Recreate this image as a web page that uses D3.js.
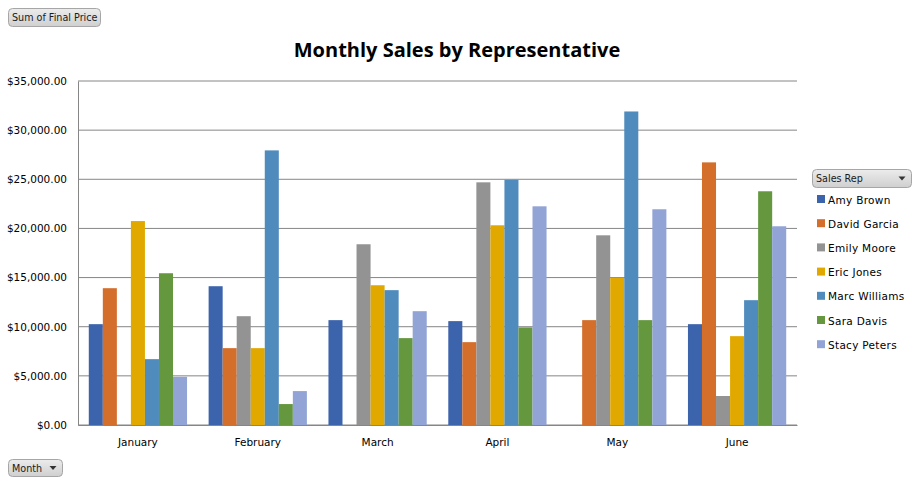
<!DOCTYPE html>
<html>
<head>
<meta charset="utf-8">
<script src="https://cdn.jsdelivr.net/npm/d3@7"></script>
<style>
  body { margin: 0; background: #fff; }
  svg { display: block; }
</style>
</head>
<body>
<div id="chart"></div>
<script>
// chart data
const months = ["January", "February", "March", "April", "May", "June"];
const reps = ["Amy Brown", "David Garcia", "Emily Moore", "Eric Jones", "Marc Williams", "Sara Davis", "Stacy Peters"];
const repColors = ["#3c64ad", "#d46e2b", "#939393", "#e1a900", "#4f8bbd", "#64973e", "#91a4d5"];
// one array per rep, values by month (0 = no sales)
const amyBrown     = [10260, 14120, 10670, 10570,     0, 10260];
const davidGarcia  = [13920,  7820,     0,  8430, 10670, 26720];
const emilyMoore   = [    0, 11070, 18390, 24690, 19300,  2950];
const ericJones    = [20750,  7820, 14220, 20320, 14970,  9040];
const marcWilliams = [ 6700, 27940, 13720, 24950, 31900, 12700];
const saraDavis    = [15440,  2130,  8840,  9930, 10670, 23780];
const stacyPeters  = [ 4900,  3450, 11580, 22250, 21950, 20220];
const yTicks = [0, 5000, 10000, 15000, 20000, 25000, 30000, 35000];

const series = [amyBrown, davidGarcia, emilyMoore, ericJones, marcWilliams, saraDavis, stacyPeters];

const width = 920;
const height = 482;
const margin = { left: 78, right: 123, top: 81, bottom: 57 };
const labelFont = "Verdana, 'DejaVu Sans', sans-serif";

const svg = d3.select("#chart")
    .append("svg")
    .attr("width", width)
    .attr("height", height);

// scales
const x0 = d3.scaleBand()
    .domain(months)
    .range([margin.left, width - margin.right])
    .paddingInner(0.18)
    .paddingOuter(0.09);

const x1 = d3.scaleBand()
    .domain(reps)
    .range([0, x0.bandwidth()]);

const y = d3.scaleLinear()
    .domain([0, 35000])
    .range([height - margin.bottom, margin.top]);

const money = d3.format("$,.2f");

// gridlines
svg.append("g")
    .selectAll("line")
    .data(yTicks)
    .join("line")
    .attr("x1", margin.left)
    .attr("x2", width - margin.right)
    .attr("y1", d => y(d))
    .attr("y2", d => y(d))
    .attr("stroke", "#868686")
    .attr("stroke-width", 1);

// bars
const groups = svg.append("g")
    .selectAll("g")
    .data(months)
    .join("g")
    .attr("transform", d => `translate(${x0(d)},0)`);

groups.selectAll("rect")
    .data((m, i) => reps.map((r, j) => ({ rep: r, value: series[j][i], color: repColors[j] })))
    .join("rect")
    .attr("x", d => x1(d.rep))
    .attr("width", x1.bandwidth())
    .attr("y", d => y(d.value))
    .attr("height", d => y(0) - y(d.value))
    .attr("fill", d => d.color);

// y axis
const yAxis = svg.append("g")
    .attr("transform", `translate(${margin.left},0)`)
    .call(d3.axisLeft(y).tickValues(yTicks).tickFormat(money).tickSize(0).tickPadding(11));
yAxis.select(".domain").attr("stroke", "#868686");
yAxis.selectAll("text")
    .attr("font-family", labelFont)
    .attr("font-size", "10.5px")
    .attr("fill", "#000");

// x axis
const xAxis = svg.append("g")
    .attr("transform", `translate(0,${height - margin.bottom})`)
    .call(d3.axisBottom(x0).tickSize(0).tickPadding(14));
xAxis.select(".domain").attr("stroke", "#868686");
xAxis.selectAll("text")
    .attr("font-family", labelFont)
    .attr("font-size", "10.5px")
    .attr("fill", "#000");

// title
svg.append("text")
    .attr("x", 457)
    .attr("y", 57)
    .attr("text-anchor", "middle")
    .attr("font-family", "'Open Sans', 'Liberation Sans', sans-serif")
    .attr("font-weight", "bold")
    .attr("font-size", "20px")
    .attr("fill", "#000")
    .text("Monthly Sales by Representative");

// pivot field buttons
function fieldButton(bx, by, bw, bh, label, arrow) {
    const g = svg.append("g").attr("transform", `translate(${bx},${by})`);
    const grad = "grad" + Math.round(bx) + "_" + Math.round(by);
    const lg = svg.append("defs").append("linearGradient")
        .attr("id", grad).attr("x1", 0).attr("x2", 0).attr("y1", 0).attr("y2", 1);
    lg.append("stop").attr("offset", "0%").attr("stop-color", "#ececec");
    lg.append("stop").attr("offset", "100%").attr("stop-color", "#cfcfcf");
    g.append("rect")
        .attr("width", bw).attr("height", bh)
        .attr("rx", 4).attr("ry", 4)
        .attr("fill", `url(#${grad})`)
        .attr("stroke", "#a6a6a6");
    g.append("text")
        .attr("x", 3.5).attr("y", bh / 2 + 3.5)
        .attr("font-family", labelFont)
        .attr("font-size", "9.6px")
        .attr("fill", "#1a1a1a")
        .text(label);
    if (arrow) {
        g.append("path")
            .attr("d", `M${bw - 13},${bh / 2 - 2} l7,0 l-3.5,4 z`)
            .attr("fill", "#333");
    }
}
fieldButton(8.5, 8.5, 92, 18, "Sum of Final Price", false);
fieldButton(8.5, 459.5, 54, 17, "Month", true);
fieldButton(812.5, 169.5, 99, 18, "Sales Rep", true);

// legend
const legend = svg.append("g")
    .selectAll("g")
    .data(reps)
    .join("g")
    .attr("transform", (d, i) => `translate(817,${200 + i * 24.2})`);
legend.append("rect")
    .attr("x", 0).attr("y", -5)
    .attr("width", 8).attr("height", 8)
    .attr("fill", (d, i) => repColors[i]);
legend.append("text")
    .attr("x", 11).attr("y", 3.5)
    .attr("font-family", labelFont)
    .attr("font-size", "10.5px")
    .attr("letter-spacing", "0.3px")
    .attr("fill", "#000")
    .text(d => d);
</script>
</body>
</html>
